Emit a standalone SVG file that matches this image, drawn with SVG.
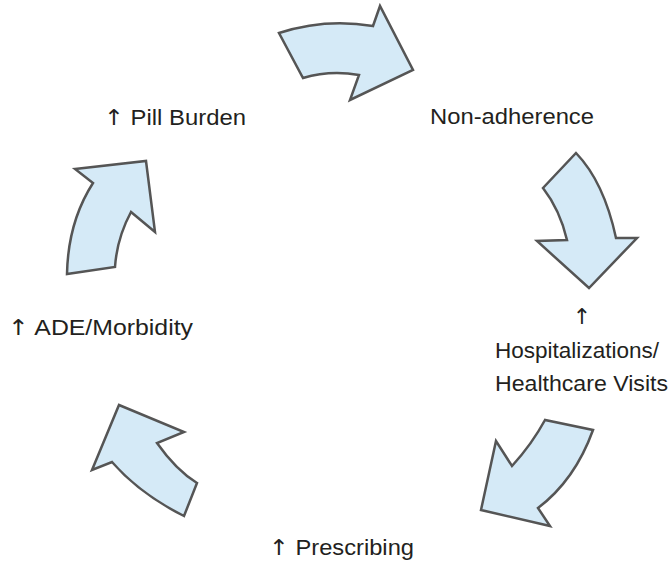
<svg xmlns="http://www.w3.org/2000/svg" width="670" height="565" viewBox="0 0 670 565">
<style>
.arr{fill:#d5eaf7;stroke:#555;stroke-width:2.5;stroke-linejoin:miter}
.t{font-family:"Liberation Sans",Arial,sans-serif;font-size:22px;fill:#231f20}
.up{font-family:"DejaVu Sans",sans-serif;font-size:22px}
</style>
<rect width="670" height="565" fill="#fff"/>
<g id="connectors">
<path id="arrow1" class="arr" d="M279,33 Q325,18 373,26 L380,6 L413,70 L350,100 L359,75 Q330,70 303,78 Z"/>
<path id="arrow2" class="arr" d="M576,153 Q604,182 616,238 L637,238 L589,288 L537,241 L567,240 Q560,210 543,188 Z"/>
<path id="arrow3" class="arr" d="M593,430 Q575,480 538,508 L550,526 L481,510 L496,441 L512,466 Q532,444 545,420 Z"/>
<path id="arrow4" class="arr" d="M119,405 L184,432 L157,443 Q176,470 197,483 L184,516 Q140,494 112,462 L92,470 Z"/>
<path id="arrow5" class="arr" d="M75,169 L146,161 L155,232 L131,212 Q117,238 115,267 L67,274 Q68,222 93,183 Z"/>
</g>
<g id="pill-burden"><text class="t" x="104" y="125" textLength="142" lengthAdjust="spacingAndGlyphs"><tspan class="up">↑</tspan> Pill Burden</text></g>
<g id="non-adherence"><text class="t" x="430" y="124" textLength="164" lengthAdjust="spacingAndGlyphs">Non-adherence</text></g>
<g id="hospitalizations"><text class="t up" x="582" y="324" text-anchor="middle">↑</text>
<text class="t" x="495" y="358" textLength="164" lengthAdjust="spacingAndGlyphs">Hospitalizations/</text>
<text class="t" x="495" y="391" textLength="173" lengthAdjust="spacingAndGlyphs">Healthcare Visits</text></g>
<g id="prescribing"><text class="t" x="269" y="555" textLength="145" lengthAdjust="spacingAndGlyphs"><tspan class="up">↑</tspan> Prescribing</text></g>
<g id="ade-morbidity"><text class="t" x="8" y="335" textLength="185" lengthAdjust="spacingAndGlyphs"><tspan class="up">↑</tspan> ADE/Morbidity</text></g>
</svg>
